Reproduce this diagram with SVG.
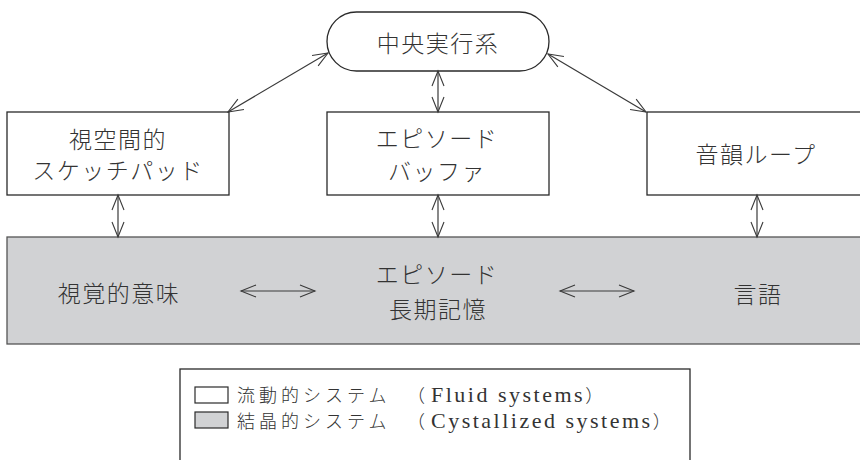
<svg xmlns="http://www.w3.org/2000/svg" width="860" height="460" viewBox="0 0 860 460">
  <style>
    .box { fill: #ffffff; stroke: #2a2a2a; stroke-width: 1.3; }
    .gray { fill: #d1d2d4; stroke: #555555; stroke-width: 1.3; }
    .lbl { font-family: "Noto Sans CJK JP", sans-serif; font-size: 23px; fill: #333333; text-anchor: middle; dominant-baseline: central; letter-spacing: 1.5px; font-weight: 300; }
    .leg { font-family: "Noto Sans CJK JP", sans-serif; font-size: 18px; fill: #333333; dominant-baseline: central; font-weight: 300; }
    .cj { letter-spacing: 4px; }
    .lat { font-family: "Liberation Serif", "Noto Sans CJK JP", serif; font-size: 22px; letter-spacing: 2.5px; font-weight: normal; }
    .conn { stroke: #3a3a3a; stroke-width: 1.2; fill: none; marker-start: url(#ah); marker-end: url(#ah); }
  </style>
  <defs>
    <marker id="ah" markerUnits="userSpaceOnUse" markerWidth="20" markerHeight="16" viewBox="-16 -8 18 16" refX="0" refY="0" orient="auto-start-reverse">
      <path d="M-15,-6 L0,0 L-15,6" fill="none" stroke="#3a3a3a" stroke-width="1.1"/>
    </marker>
  </defs>
  <rect width="860" height="460" fill="#ffffff"/>

  <g id="central-executive">
    <rect class="box" x="327" y="12" width="222" height="59" rx="29.5" ry="29.5"/>
    <text class="lbl" x="438" y="42">中央実行系</text>
  </g>

  <g id="visuospatial-sketchpad">
    <rect class="box" x="7" y="112" width="222" height="83"/>
    <text class="lbl" x="118" y="138">視空間的</text>
    <text class="lbl" x="118" y="169">スケッチパッド</text>
  </g>

  <g id="episodic-buffer">
    <rect class="box" x="327" y="112" width="222" height="83"/>
    <text class="lbl" x="437" y="137">エピソード</text>
    <text class="lbl" x="437" y="170">バッファ</text>
  </g>

  <g id="phonological-loop">
    <rect class="box" x="647" y="112" width="230" height="83"/>
    <text class="lbl" x="756" y="153">音韻ループ</text>
  </g>

  <g id="crystallized-systems">
    <rect class="gray" x="7" y="237" width="870" height="107"/>
    <g id="visual-semantics">
      <text class="lbl" x="119" y="292">視覚的意味</text>
    </g>
    <g id="episodic-ltm">
      <text class="lbl" x="437" y="273">エピソード</text>
      <text class="lbl" x="438" y="308">長期記憶</text>
    </g>
    <g id="language">
      <text class="lbl" x="758" y="293">言語</text>
    </g>
  </g>

  <g id="connectors">
    <line class="conn" x1="328" y1="53" x2="228" y2="112"/>
    <line class="conn" x1="548" y1="54" x2="646" y2="112"/>
    <line class="conn" x1="438" y1="71" x2="438" y2="112"/>
    <line class="conn" x1="118" y1="195" x2="118" y2="237"/>
    <line class="conn" x1="438" y1="195" x2="438" y2="237"/>
    <line class="conn" x1="757" y1="195" x2="757" y2="237"/>
    <line class="conn" x1="241" y1="291" x2="315" y2="291"/>
    <line class="conn" x1="560" y1="291" x2="634" y2="291"/>
  </g>

  <g id="legend">
    <rect x="180" y="369" width="510" height="100" fill="#ffffff" stroke="#2a2a2a" stroke-width="1.3"/>
    <rect x="195" y="387" width="33" height="16" fill="#ffffff" stroke="#2a2a2a" stroke-width="1.2"/>
    <rect x="195" y="412" width="33" height="16" fill="#d1d2d4" stroke="#2a2a2a" stroke-width="1.2"/>
    <text class="leg" x="237" y="393.5"><tspan class="cj">流動的システム</tspan><tspan x="407">（</tspan><tspan class="lat" x="431">Fluid systems</tspan><tspan>）</tspan></text>
    <text class="leg" x="237" y="420"><tspan class="cj">結晶的システム</tspan><tspan x="407">（</tspan><tspan class="lat" x="431">Cystallized systems</tspan><tspan>）</tspan></text>
  </g>
</svg>
